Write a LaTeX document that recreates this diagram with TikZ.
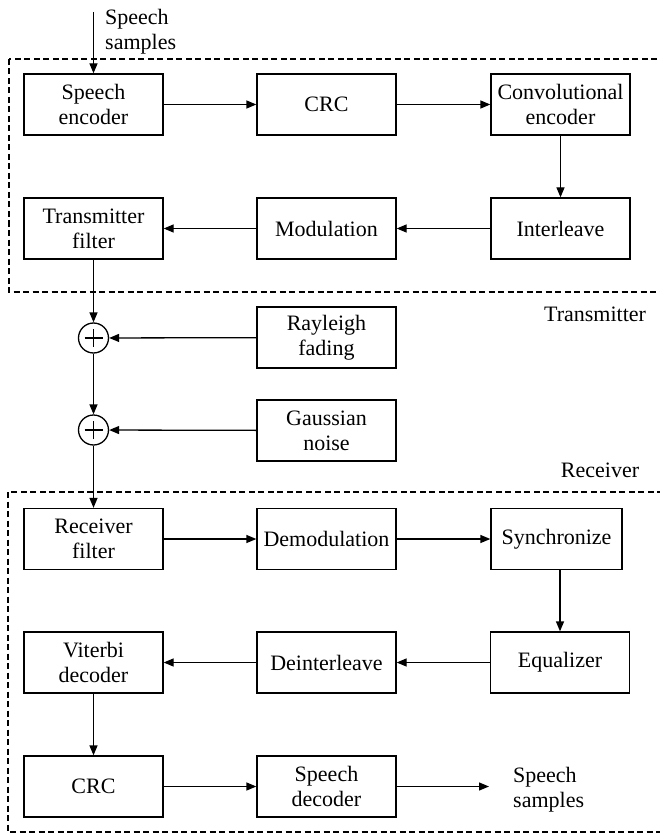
\documentclass[tikz,border=0pt]{standalone}
\usepackage{fontspec}
\setmainfont{Liberation Serif}
\usetikzlibrary{arrows.meta}
\tikzset{
  blockbox/.style={draw, line width=1.3pt, minimum width=139pt, minimum height=61pt,
    inner sep=0pt, align=center, font=\fontsize{22}{25}\selectfont},
  sumnode/.style={draw, circle, line width=1.3pt, minimum size=30pt, inner sep=0pt,
    path picture={\draw[line width=1.2pt] (path picture bounding box.center) ++(-9pt,0) -- ++(18pt,0)
      (path picture bounding box.center) ++(0,-9pt) -- ++(0,18pt);}},
  flowarrow/.style={-{Triangle[length=10pt,width=8pt]}, line width=1.3pt},
  groupbox/.style={dash pattern=on 6pt off 3.5pt, line width=1.1pt},
  plainlabel/.style={font=\fontsize{22}{25}\selectfont, align=left, inner sep=0pt}
}

\begin{document}
\begin{tikzpicture}[x=1pt, y=-1pt]
\useasboundingbox (0,0) rectangle (660,834);

% === Transmitter (top) ===
\draw[groupbox] (9,59) rectangle (670,292);
\node[plainlabel] (txlabel) at (595,314) {Transmitter};

\coordinate (spin) at (93.5,12);
\node[plainlabel, anchor=north west] (spinlabel) at (105,9) {Speech\\samples};

\node[blockbox] (spenc) at (93.5,104.5) {Speech\\encoder};
\node[blockbox] (crcA) at (326.5,104.5) {CRC};
\node[blockbox] (convenc) at (560.5,104.5) {Convolutional\\encoder};
\node[blockbox] (txfilt) at (93.5,228.5) {Transmitter\\filter};
\node[blockbox] (modul) at (326.5,228.5) {Modulation};
\node[blockbox] (intl) at (560.5,228.5) {Interleave};

\draw[flowarrow] (spin) -- (spenc);
\draw[flowarrow] (spenc) -- (crcA);
\draw[flowarrow] (crcA) -- (convenc);
\draw[flowarrow] (convenc) -- (intl);
\draw[flowarrow] (intl) -- (modul);
\draw[flowarrow] (modul) -- (txfilt);

% === Channel (middle) ===
\node[sumnode] (sumA) at (93.5,338) {};
\node[sumnode] (sumB) at (93.5,430) {};
\node[blockbox] (rayl) at (326.5,337.5) {Rayleigh\\fading};
\node[blockbox] (gauss) at (326.5,430.5) {Gaussian\\noise};

\draw[flowarrow] (txfilt) -- (sumA);
\draw[flowarrow] (rayl) -- (sumA);
\draw[flowarrow] (sumA) -- (sumB);
\draw[flowarrow] (gauss) -- (sumB);

% === Receiver (bottom) ===
\draw[groupbox] (8,492) rectangle (670,832);
\node[plainlabel] (rxlabel) at (600,470) {Receiver};

\node[blockbox] (rxfilt) at (93.5,539) {Receiver\\filter};
\node[blockbox] (demod) at (326.5,539) {Demodulation};
\node[blockbox, minimum width=131pt] (sync) at (556.5,539) {Synchronize};
\node[blockbox] (viterbi) at (93.5,662.5) {Viterbi\\decoder};
\node[blockbox] (deint) at (326.5,662.5) {Deinterleave};
\node[blockbox] (equal) at (560,662.5) {Equalizer};
\node[blockbox] (crcB) at (93.5,786.5) {CRC};
\node[blockbox] (spdec) at (326.5,786.5) {Speech\\decoder};

\coordinate (spout) at (489,786.5);
\node[plainlabel, anchor=north west] (spoutlabel) at (513,767) {Speech\\samples};

\draw[flowarrow] (sumB) -- (rxfilt);
\draw[flowarrow] (rxfilt) -- (demod);
\draw[flowarrow] (demod) -- (sync);
\draw[flowarrow] (sync.south -| equal.north) -- (equal.north);
\draw[flowarrow] (equal) -- (deint);
\draw[flowarrow] (deint) -- (viterbi);
\draw[flowarrow] (viterbi) -- (crcB);
\draw[flowarrow] (crcB) -- (spdec);
\draw[flowarrow] (spdec) -- (spout);

\end{tikzpicture}
\end{document}
